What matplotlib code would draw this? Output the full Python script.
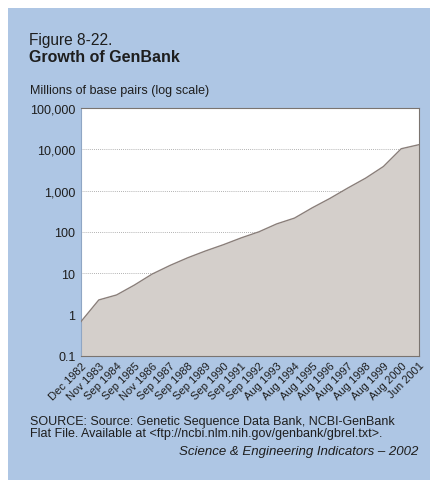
import numpy as np
import matplotlib.pyplot as plt
from matplotlib.patches import Rectangle

plt.rcParams['font.family'] = ['Liberation Sans', 'DejaVu Sans']

# release dates of GenBank and size in millions of base pairs
dates = ["Dec 1982", "Nov 1983", "Sep 1984", "Sep 1985", "Nov 1986", "Sep 1987",
         "Sep 1988", "Sep 1989", "Sep 1990", "Sep 1991", "Sep 1992", "Aug 1993",
         "Aug 1994", "Aug 1995", "Aug 1996", "Aug 1997", "Aug 1998", "Aug 1999",
         "Aug 2000", "Jun 2001"]
base_pairs = [0.68, 2.27, 3.0, 5.2, 9.6, 15.5, 23.8, 34.8, 49.2, 71.9, 101,
              157, 217, 385, 652, 1160, 2009, 3841, 10336, 12974]
ytick_vals = [0.1, 1, 10, 100, 1000, 10000, 100000]
ytick_labels = ["0.1", "1", "10", "100", "1,000", "10,000", "100,000"]

bg = '#aec6e4'
fill = '#d4cfcb'
edge = '#8a7f7a'
txt = '#1e1e1e'

fig = plt.figure(figsize=(4.30, 4.81), dpi=100)
fig.patches.append(Rectangle((8/430, 0), 1, 1 - 9/481, transform=fig.transFigure,
                             facecolor=bg, edgecolor='none', zorder=-10))

ax = fig.add_axes([81/430, 1 - 357/481, 338/430, 248/481])
x = np.arange(len(dates))
ax.fill_between(x, 0.1, base_pairs, color=fill, lw=0, zorder=2)
ax.plot(x, base_pairs, color=edge, lw=1.0, zorder=3)
ax.set_yscale('log')
ax.set_ylim(0.1, 100000)
ax.set_xlim(0, len(dates) - 1)
ax.set_facecolor('white')

for v in ytick_vals[2:-1]:
    ax.axhline(v, color='#999999', lw=0.6, ls=(0, (1, 1.5)), zorder=1)

ax.set_yticks(ytick_vals)
ax.set_yticklabels(ytick_labels, fontsize=9, color=txt)
ax.yaxis.set_minor_locator(plt.NullLocator())
ax.tick_params(axis='y', length=0, pad=4)

ax.set_xticks(x)
ax.set_xticklabels(dates, fontsize=8, rotation=45, ha='right',
                   rotation_mode='anchor', color=txt)
ax.tick_params(axis='x', direction='in', length=4, color='#9a908a', pad=3)

for s in ['top', 'right', 'bottom']:
    ax.spines[s].set_color('#7a7470')
    ax.spines[s].set_linewidth(0.8)
ax.spines['left'].set_color('#8fa6c4')
ax.spines['left'].set_linewidth(0.8)

fig.text(29/430, 1 - 40/481, "Figure 8-22.", fontsize=11.2, color=txt, va='center')
fig.text(29/430, 1 - 58/481, "Growth of GenBank", fontsize=11.5, fontweight='bold',
         color=txt, va='center')
fig.text(30/430, 1 - 91/481, "Millions of base pairs (log scale)", fontsize=9,
         color=txt, va='center')
fig.text(30/430, 1 - 422/481, "SOURCE: Source: Genetic Sequence Data Bank, NCBI-GenBank",
         fontsize=9, color=txt, va='center')
fig.text(30/430, 1 - 434/481, "Flat File. Available at <ftp://ncbi.nlm.nih.gov/genbank/gbrel.txt>.",
         fontsize=9, color=txt, va='center')
fig.text(418/430, 1 - 452/481, "Science & Engineering Indicators \u2013 2002",
         fontsize=9.5, style='italic', color=txt, va='center', ha='right')

fig.savefig('out.png', dpi=100, facecolor='white')
